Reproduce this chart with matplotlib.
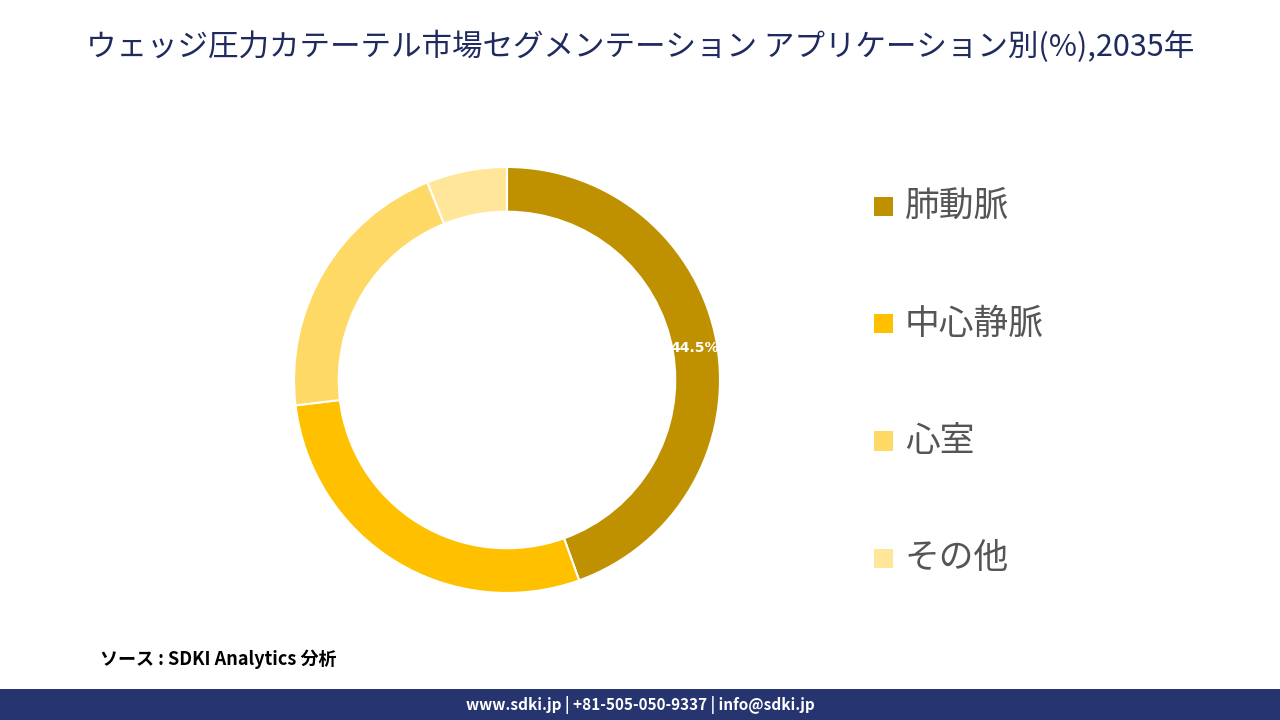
import matplotlib
matplotlib.use("Agg")
import matplotlib.pyplot as plt
from matplotlib.patches import Rectangle

plt.rcParams["font.family"] = ["Noto Sans CJK JP", "DejaVu Sans"]

categories = ["肺動脈", "中心静脈", "心室", "その他"]
values = [44.5, 28.6, 20.8, 6.1]
colors = ["#BF9000", "#FFC000", "#FFD966", "#FFE699"]

fig = plt.figure(figsize=(12.8, 7.2), dpi=100)
fig.patch.set_facecolor("white")

fig.text(0.5, 0.935, "ウェッジ圧力カテーテル市場セグメンテーション アプリケーション別(%),2035年",
         ha="center", va="center", fontsize=22, color="#1F2A5E")

ax = fig.add_axes([0.2297, 0.1764, 0.3328, 0.5917])
wedges, _ = ax.pie(values, colors=colors, startangle=90, counterclock=False,
                   radius=1.0, wedgeprops=dict(width=0.21, edgecolor="white", linewidth=1.5))
ax.set_xlim(-1, 1)
ax.set_ylim(-1, 1)
ax.set_aspect("equal")
ax.text(0.88, 0.15, "44.5%", ha="center", va="center", color="white", fontsize=10, fontweight="bold",
        family="DejaVu Sans")

for i, (c, col) in enumerate(zip(categories, colors)):
    y = 0.713 - i * 0.163
    fig.patches.append(Rectangle((0.683, y - 0.013), 0.015, 0.027, transform=fig.transFigure,
                                 facecolor=col, edgecolor="none"))
    fig.text(0.707, y, c, ha="left", va="center", fontsize=25, color="#555555")

fig.text(0.078, 0.085, "ソース : SDKI Analytics 分析", ha="left", va="center",
         fontsize=13, style="italic", fontweight="bold", color="black")

fig.patches.append(Rectangle((0, 0), 1, 0.043, transform=fig.transFigure,
                             facecolor="#263470", edgecolor="none"))
fig.text(0.5, 0.021, "www.sdki.jp | +81-505-050-9337 | info@sdki.jp", ha="center", va="center",
         fontsize=11, fontweight="bold", color="white")

fig.savefig("out.png", dpi=100)
